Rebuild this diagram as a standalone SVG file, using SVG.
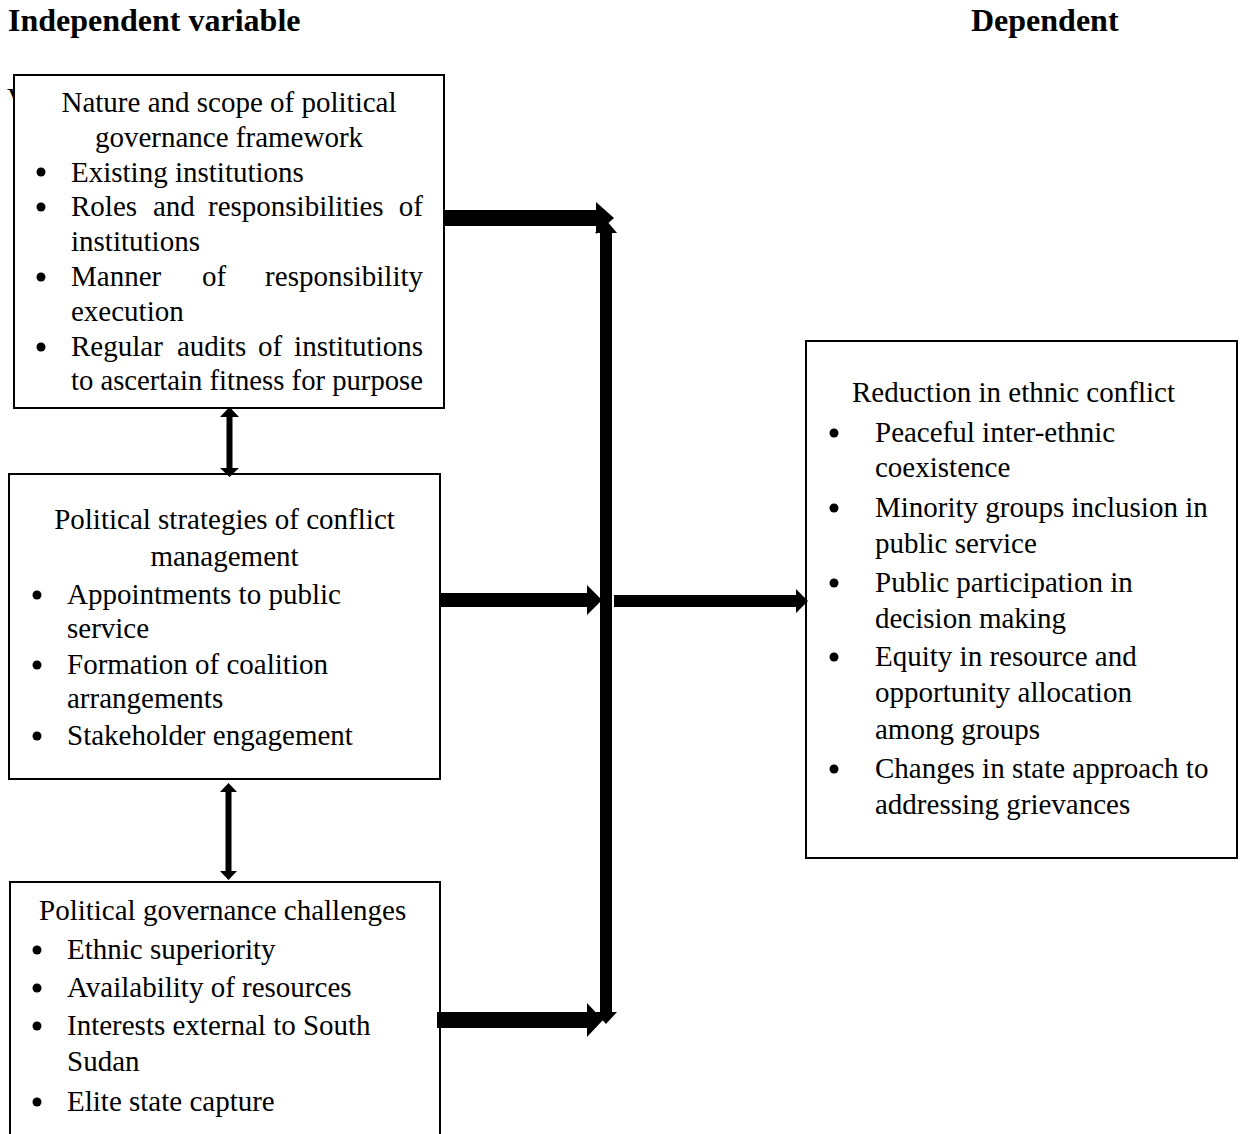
<svg xmlns="http://www.w3.org/2000/svg" width="1243" height="1134" viewBox="0 0 1243 1134">
<style>
.t{font-family:"Liberation Serif","Times New Roman",serif;font-size:29px;fill:#000}
.h{font-family:"Liberation Serif","Times New Roman",serif;font-size:32px;font-weight:bold;fill:#000}
.box{fill:#fff;stroke:#000;stroke-width:2}
.dot{fill:#000}
.c{text-anchor:middle}
.e{text-anchor:end}
.arr{fill:#000;stroke:none}
</style>
<rect width="1243" height="1134" fill="#fff"/>
<text class="h" x="8" y="31">Independent variable</text>
<text class="h" x="971" y="31">Dependent</text>
<text class="t" x="7" y="108">V</text>

<g id="n1">
<rect class="box" x="14" y="75" width="430" height="333"/>
<text class="t c" x="229" y="112">Nature and scope of political</text>
<text class="t c" x="229" y="146.8">governance framework</text>
<circle class="dot" cx="41" cy="172" r="4.5"/>
<text class="t" x="71" y="181.6">Existing institutions</text>
<circle class="dot" cx="41" cy="207" r="4.5"/>
<text class="t" x="71" y="216.4">Roles</text><text class="t" x="153" y="216.4">and</text><text class="t" x="208" y="216.4">responsibilities</text><text class="t e" x="423" y="216.4">of</text>
<text class="t" x="71" y="251.2">institutions</text>
<circle class="dot" cx="41" cy="277" r="4.5"/>
<text class="t" x="71" y="286">Manner</text><text class="t" x="202" y="286">of</text><text class="t e" x="423" y="286">responsibility</text>
<text class="t" x="71" y="320.8">execution</text>
<circle class="dot" cx="41" cy="347" r="4.5"/>
<text class="t" x="71" y="355.6">Regular</text><text class="t" x="177" y="355.6">audits</text><text class="t" x="258" y="355.6">of</text><text class="t e" x="423" y="355.6">institutions</text>
<text class="t" x="71" y="390.4" textLength="352" lengthAdjust="spacingAndGlyphs">to ascertain fitness for purpose</text>
</g>

<g id="n2">
<rect class="box" x="9" y="474" width="431" height="305"/>
<text class="t c" x="224.5" y="529">Political strategies of conflict</text>
<text class="t c" x="224.5" y="566">management</text>
<circle class="dot" cx="37" cy="595" r="4.5"/>
<text class="t" x="67" y="604">Appointments to public</text>
<text class="t" x="67" y="638">service</text>
<circle class="dot" cx="37" cy="665" r="4.5"/>
<text class="t" x="67" y="674">Formation of coalition</text>
<text class="t" x="67" y="708">arrangements</text>
<circle class="dot" cx="37" cy="736" r="4.5"/>
<text class="t" x="67" y="745">Stakeholder engagement</text>
</g>

<g id="n3">
<rect class="box" x="10" y="882" width="430" height="270"/>
<text class="t" x="39" y="920">Political governance challenges</text>
<circle class="dot" cx="37" cy="950" r="4.5"/>
<text class="t" x="67" y="959">Ethnic superiority</text>
<circle class="dot" cx="37" cy="988" r="4.5"/>
<text class="t" x="67" y="997">Availability of resources</text>
<circle class="dot" cx="37" cy="1026" r="4.5"/>
<text class="t" x="67" y="1035">Interests external to South</text>
<text class="t" x="67" y="1071">Sudan</text>
<circle class="dot" cx="37" cy="1102" r="4.5"/>
<text class="t" x="67" y="1111">Elite state capture</text>
</g>

<g id="n4">
<rect class="box" x="806" y="341" width="431" height="517"/>
<text class="t" x="852" y="402">Reduction in ethnic conflict</text>
<circle class="dot" cx="834" cy="433" r="4.5"/>
<text class="t" x="875" y="442">Peaceful inter-ethnic</text>
<text class="t" x="875" y="477">coexistence</text>
<circle class="dot" cx="834" cy="508" r="4.5"/>
<text class="t" x="875" y="517">Minority groups inclusion in</text>
<text class="t" x="875" y="553">public service</text>
<circle class="dot" cx="834" cy="583" r="4.5"/>
<text class="t" x="875" y="592">Public participation in</text>
<text class="t" x="875" y="628">decision making</text>
<circle class="dot" cx="834" cy="657" r="4.5"/>
<text class="t" x="875" y="666">Equity in resource and</text>
<text class="t" x="875" y="702">opportunity allocation</text>
<text class="t" x="875" y="739">among groups</text>
<circle class="dot" cx="834" cy="769" r="4.5"/>
<text class="t" x="875" y="778">Changes in state approach to</text>
<text class="t" x="875" y="814">addressing grievances</text>
</g>

<g id="connectors">
<polygon class="arr" points="606,220 617,233 612,233 612,1012 617,1012 606,1024 595,1012 600,1012 600,233 595,233"/>
<polygon class="arr" points="444,210 596,210 596,202 614,218 596,234 596,226 444,226"/>
<polygon class="arr" points="440,593 587,593 587,585 602,600 587,615 587,607 440,607"/>
<polygon class="arr" points="437,1012 587,1012 587,1003 603,1020 587,1037 587,1028 437,1028"/>
<polygon class="arr" points="614,595 796,595 796,589 808,601 796,613 796,607 614,607"/>
<polygon class="arr" points="229.5,407 239,417 232.5,417 232.5,468 239,468 229.5,477 220,468 226.5,468 226.5,417 220,417"/>
<polygon class="arr" points="228.5,783 237,792 231.5,792 231.5,871 237,871 228.5,880 220,871 225.5,871 225.5,792 220,792"/>
</g>
</svg>
